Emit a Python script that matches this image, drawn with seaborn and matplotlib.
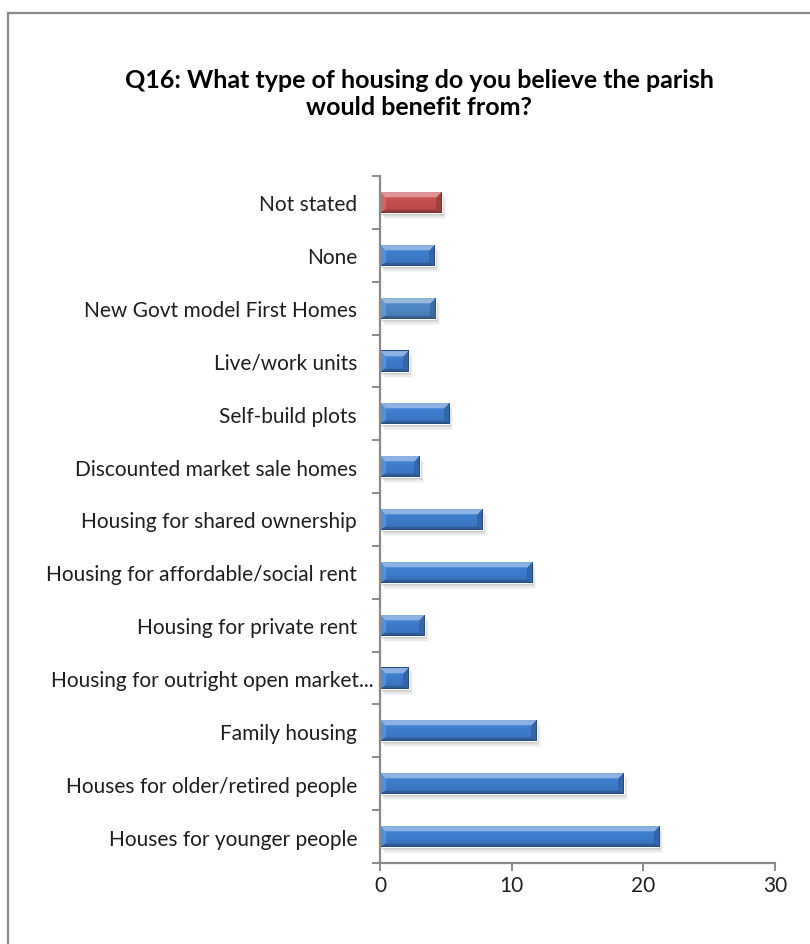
import numpy as np
import pandas as pd
import matplotlib
matplotlib.use("Agg")
import matplotlib.pyplot as plt
import matplotlib.transforms as mtransforms
from matplotlib.patches import Rectangle
from matplotlib.colors import to_rgb
import seaborn as sns

# ---- data -------------------------------------------------------------
categories = [
    "Not stated",
    "None",
    "New Govt model First Homes",
    "Live/work units",
    "Self-build plots",
    "Discounted market sale homes",
    "Housing for shared ownership",
    "Housing for affordable/social rent",
    "Housing for private rent",
    "Housing for outright open market...",
    "Family housing",
    "Houses for older/retired people",
    "Houses for younger people",
]
values = [4.7, 4.15, 4.25, 2.2, 5.25, 3.0, 7.8, 11.55, 3.4, 2.2, 11.9, 18.5, 21.2]
x_ticks = [0, 10, 20, 30]
title = "Q16: What type of housing do you believe the parish\nwould benefit from?"

# ---- styling ----------------------------------------------------------
BLUE = "#3f80d2"
BLUE_ALT = "#5089ca"
RED = "#c9524f"
bar_colors = {c: BLUE for c in categories}
bar_colors["Not stated"] = RED
bar_colors["New Govt model First Homes"] = BLUE_ALT

sns.set_theme(style="white")
plt.rcParams["font.family"] = ["Lato", "DejaVu Sans"]

W, H, DPI = 810, 945, 100
fig = plt.figure(figsize=(W / DPI, H / DPI), dpi=DPI)
fig.patch.set_facecolor("white")

# plot area in pixel terms
x0_px, x1_px, ytop_px, ybot_px = 380, 775, 177, 864
ax = fig.add_axes([x0_px / W, 1 - ybot_px / H, (x1_px - x0_px) / W, (ybot_px - ytop_px) / H])

df = pd.DataFrame({"category": categories, "value": values})
sns.barplot(data=df, x="value", y="category", hue="category",
            palette=bar_colors, legend=False, width=0.4, orient="h",
            saturation=1, ax=ax, zorder=3)

ax.set_xlim(0, 30)
ax.set_ylim(len(categories) - 0.5, -0.5)
ax.set_xlabel("")
ax.set_ylabel("")


def bevel_image(base, w, h, b):
    """Chamfered bar face: light top band, dark bottom band, shaded ends."""
    base = np.array(to_rgb(base))
    light = np.clip(base + (1 - base) * 0.40, 0, 1)
    dark = base * 0.72
    left = np.clip(base + (1 - base) * 0.12, 0, 1)
    right = base * 0.8
    rr, cc = np.mgrid[0:h, 0:w]
    t = rr / max(h - 1, 1)
    img = np.clip(base[None, None, :] * (1.05 - 0.16 * t[..., None]), 0, 1)
    bt, bb = b, max(b // 2, 2)
    # distances scaled so the chamfer depth differs on top and bottom
    dists = np.stack([rr / bt, (h - 1 - rr) / bb, cc / b, (w - 1 - cc) / b])
    nearest = dists.argmin(0)
    m = dists.min(0)
    for k, col in enumerate([light, dark, left, right]):
        mask = (m < 1) & (nearest == k)
        img[mask] = col
    # fine outline
    edge = base * 0.6
    img[0, :] = edge
    img[-1, :] = edge
    img[:, 0] = edge
    img[:, -1] = edge
    return img


fig.canvas.draw()
for patch, cat in zip(ax.patches, categories):
    bx, by = patch.get_x(), patch.get_y()
    bw, bh = patch.get_width(), patch.get_height()
    if bw <= 0:
        continue
    p0 = ax.transData.transform((bx, by))
    p1 = ax.transData.transform((bx + bw, by + bh))
    wpx = max(int(round(abs(p1[0] - p0[0]))), 2)
    hpx = max(int(round(abs(p1[1] - p0[1]))), 2)
    # soft drop shadow
    for dx, dy, a in [(1, -2, 0.10), (2, -3, 0.07), (3, -5, 0.05), (4, -6, 0.03)]:
        tr = mtransforms.offset_copy(ax.transData, fig=fig, x=dx, y=dy, units="dots")
        ax.add_patch(Rectangle((bx, by), bw, bh, transform=tr, facecolor="black",
                               edgecolor="none", alpha=a, zorder=2))
    img = bevel_image(bar_colors[cat], wpx, hpx, 6)
    im = ax.imshow(img, extent=(bx, bx + bw, by + bh, by), origin="upper",
                   aspect="auto", interpolation="bilinear", zorder=4)
    im.set_clip_path(patch)

ax.set_xlim(0, 30)
ax.set_ylim(len(categories) - 0.5, -0.5)

# axes styling
for s in ["top", "right"]:
    ax.spines[s].set_visible(False)
for s in ["left", "bottom"]:
    ax.spines[s].set_color("#8a8a8a")
    ax.spines[s].set_linewidth(1.6)
    ax.spines[s].set_zorder(6)

ax.set_xticks(x_ticks)
ax.set_xticklabels([str(t) for t in x_ticks])
ax.set_yticks(range(len(categories)))
ax.set_yticklabels(categories)
ax.set_yticks(np.arange(-0.5, len(categories), 1.0), minor=True)
ax.tick_params(axis="y", which="major", length=0, pad=16.5, labelsize=15, labelcolor="#1e1e1e")
ax.tick_params(axis="y", which="minor", length=5.5, width=1.4, color="#8a8a8a", direction="out", left=True)
ax.tick_params(axis="x", which="major", length=5.5, width=1.4, color="#8a8a8a", direction="out",
               bottom=True, pad=3, labelsize=15, labelcolor="#1e1e1e")
ax.grid(False)

# the truncated label runs up to the tick marks
for lab in ax.get_yticklabels():
    if lab.get_text().endswith("..."):
        lab.set_transform(lab.get_transform() + mtransforms.ScaledTranslation(17 / DPI, 0, fig.dpi_scale_trans))

fig.text(419 / W, 1 - 94 / H, title, ha="center", va="center", fontsize=18,
         fontweight="bold", linespacing=1.2, color="black")

# chart frame
fig.patches.append(Rectangle((8 / W, -0.1), 1.2, 1.1 - 14 / H, transform=fig.transFigure,
                             facecolor="none", edgecolor="#8a8a8a", linewidth=1.6, zorder=0))

fig.savefig("out.png", dpi=DPI)
